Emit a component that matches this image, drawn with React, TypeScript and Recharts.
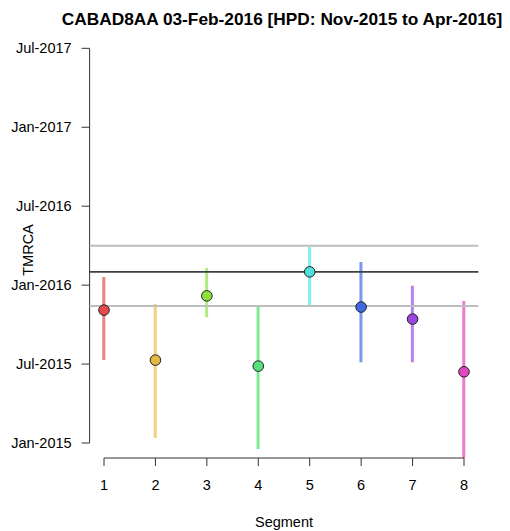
import React from 'react';
import { ComposedChart, XAxis, YAxis, Scatter, Bar, Cell, ReferenceLine } from 'recharts';

const segments = [1, 2, 3, 4, 5, 6, 7, 8];
const tmrcaMid = [2015.842, 2015.525, 2015.932, 2015.487, 2016.084, 2015.861, 2015.785, 2015.451];
const hpdLow = [2015.525, 2015.032, 2015.796, 2014.962, 2015.867, 2015.511, 2015.511, 2014.905];
const hpdHigh = [2016.052, 2015.880, 2016.108, 2015.867, 2016.242, 2016.147, 2015.996, 2015.899];
const pointColors = ['#E64A4A', '#E6B846', '#8EE03E', '#58E07C', '#4CE2DA', '#3F6AE0', '#9A46E0', '#E048C0'];
const barColors = ['#F08282', '#F3D07C', '#B2EC7E', '#7EEB98', '#80F0EC', '#7A98EE', '#B682EB', '#EE7ACF'];
const yTickValues = [2015, 2015.5, 2016, 2016.5, 2017, 2017.5];
const yTickLabels = ['Jan-2015', 'Jul-2015', 'Jan-2016', 'Jul-2016', 'Jan-2017', 'Jul-2017'];
const hpdUpperLine = 2016.249;
const sampleDateLine = 2016.084;
const hpdLowerLine = 2015.867;
const titleText = 'CABAD8AA 03-Feb-2016 [HPD: Nov-2015 to Apr-2016]';
const xLabel = 'Segment';
const yLabel = 'TMRCA';

const X_MIN = 0.72;
const X_MAX = 8.28;
const Y_MIN = 2014.905;
const Y_MAX = 2017.54;

const data = segments.map((s, i) => ({
  seg: s,
  mid: tmrcaMid[i],
  range: [hpdLow[i], hpdHigh[i]],
}));

const FONT = '"Liberation Sans", Arial, sans-serif';

const Dot = (props: any) => {
  const { cx, cy, fill } = props;
  if (cx == null || cy == null) return null;
  return <circle cx={cx} cy={cy} r={5.3} fill={fill} stroke="#222" strokeWidth={1} />;
};

export default function App() {
  return (
    <div style={{ position: 'absolute', left: 0, top: 0, width: 510, height: 531, background: '#fff', fontFamily: FONT }}>
      <div
        style={{
          position: 'absolute',
          left: 282,
          top: 9,
          transform: 'translateX(-50%)',
          lineHeight: '20px',
          fontWeight: 'bold',
          fontSize: 17.3,
          whiteSpace: 'nowrap',
          color: '#000',
        }}
      >
        {titleText}
      </div>
      <ComposedChart
        width={510}
        height={531}
        data={data}
        margin={{ top: 42, right: 31.6, bottom: 0, left: 9.6 }}
        style={{ fontFamily: FONT }}
      >
        <XAxis
          dataKey="seg"
          type="number"
          domain={[X_MIN, X_MAX]}
          ticks={segments}
          allowDataOverflow
          height={73}
          axisLine={false}
          tickLine={{ stroke: '#333', strokeWidth: 1 }}
          tickSize={8}
          tickMargin={14}
          tick={{ fill: '#000', fontSize: 14.5, fontFamily: FONT }}
          interval={0}
          label={{
            content: (p: any) => {
              const vb = p.viewBox || {};
              const cx = (vb.x ?? 89.6) + (vb.width ?? 388.8) / 2;
              return (
                <text x={cx} y={527} textAnchor="middle" fontSize={14.5} fontFamily={FONT} fill="#000">
                  {xLabel}
                </text>
              );
            },
          }}
        />
        <YAxis
          type="number"
          domain={[Y_MIN, Y_MAX]}
          ticks={yTickValues}
          allowDataOverflow
          width={80}
          axisLine={false}
          tickLine={{ stroke: '#333', strokeWidth: 1 }}
          tickSize={8}
          tickMargin={10}
          interval={0}
          tick={{ fill: '#000', fontSize: 14.5, fontFamily: FONT }}
          tickFormatter={(v: number) => yTickLabels[yTickValues.indexOf(v)] ?? ''}
          label={{
            content: (p: any) => {
              const vb = p.viewBox || {};
              const cy = (vb.y ?? 42) + (vb.height ?? 416) / 2;
              return (
                <text
                  x={33}
                  y={cy}
                  transform={`rotate(-90, 33, ${cy})`}
                  textAnchor="middle"
                  fontSize={14.5}
                  fontFamily={FONT}
                  fill="#000"
                >
                  {yLabel}
                </text>
              );
            },
          }}
        />
        <ReferenceLine
          segment={[{ x: X_MIN, y: yTickValues[0] }, { x: X_MIN, y: yTickValues[yTickValues.length - 1] }]}
          stroke="#333"
          strokeWidth={1}
          ifOverflow="visible"
        />
        <ReferenceLine
          segment={[{ x: segments[0], y: Y_MIN }, { x: segments[segments.length - 1], y: Y_MIN }]}
          stroke="#333"
          strokeWidth={1}
          ifOverflow="visible"
        />
        <ReferenceLine y={hpdUpperLine} stroke="#BEBEBE" strokeWidth={2} ifOverflow="visible" />
        <ReferenceLine y={hpdLowerLine} stroke="#BEBEBE" strokeWidth={2} ifOverflow="visible" />
        <ReferenceLine y={sampleDateLine} stroke="#404040" strokeWidth={1.6} ifOverflow="visible" />
        <Bar dataKey="range" barSize={3} isAnimationActive={false}>
          {data.map((d, i) => (
            <Cell key={i} fill={barColors[i]} />
          ))}
        </Bar>
        <Scatter dataKey="mid" isAnimationActive={false} shape={<Dot />}>
          {data.map((d, i) => (
            <Cell key={i} fill={pointColors[i]} />
          ))}
        </Scatter>
      </ComposedChart>
    </div>
  );
}
